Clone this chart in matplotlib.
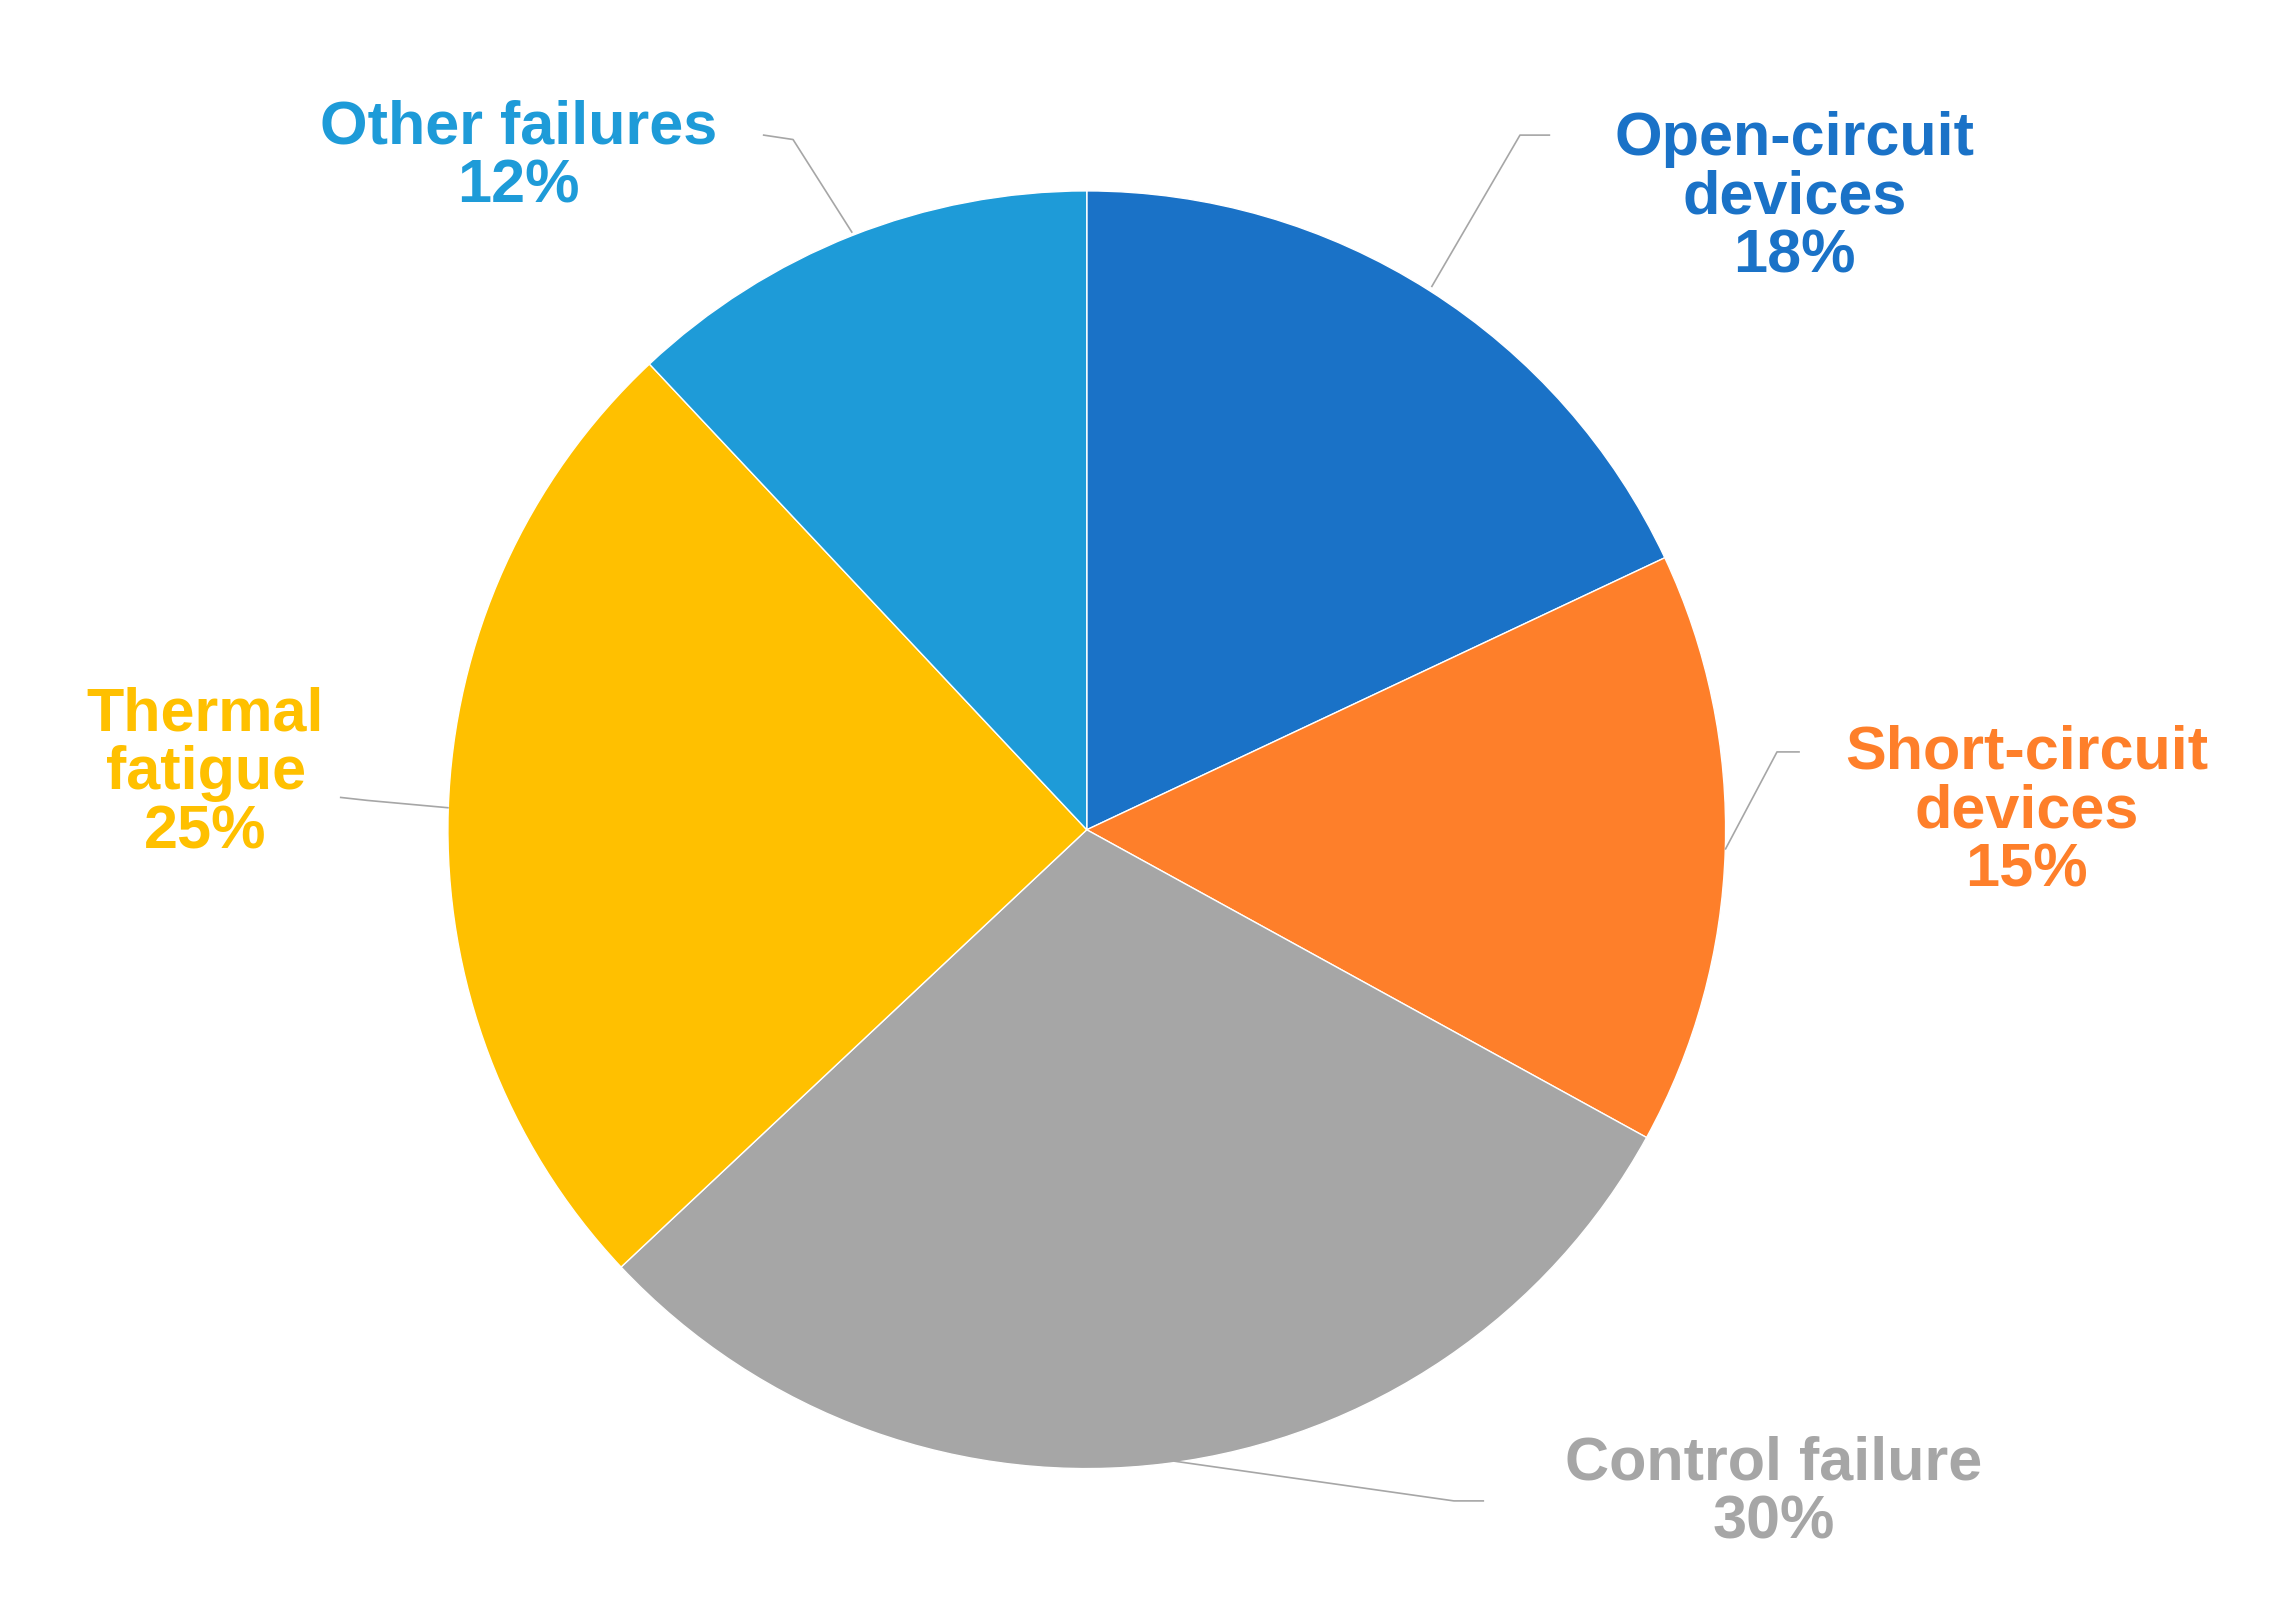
import matplotlib.pyplot as plt

labels = ["Open-circuit\ndevices", "Short-circuit\ndevices", "Control failure", "Thermal\nfatigue", "Other failures"]
values = [18, 15, 30, 25, 12]
colors = ["#1A72C7", "#FE7F2A", "#A6A6A6", "#FFC000", "#1E9BD8"]

W, H = 2291, 1597
S = W / 1560.0

def P(x, y):
    # reference-layout coords (1560 wide) -> figure pixels, y up
    return x * S, H - y * S

fig = plt.figure(figsize=(W / 100, H / 100), dpi=100)
ax = fig.add_axes([0, 0, 1, 1])
ax.set_xlim(0, W)
ax.set_ylim(0, H)
ax.set_aspect("equal")
ax.axis("off")

cx, cy = P(740, 565)
r = 435 * S
ax.pie(values, colors=colors, startangle=90, counterclock=False, center=(cx, cy),
       radius=r, wedgeprops=dict(edgecolor="white", linewidth=1.0), frame=True)
ax.set_xlim(0, W)
ax.set_ylim(0, H)
ax.axis("off")

# label text positions and leader lines (reference-layout coords)
text_pos = [(1222, 135), (1380, 553), (1208, 1017), (140, 527), (353, 107)]
leaders = [
    [(1055, 92), (1035, 92), (975, 195)],
    [(1225, 512), (1210, 512), (1175, 578)],
    [(1010, 1022), (990, 1022), (800, 995)],
    [(232, 543), (250, 545), (305, 550)],
    [(520, 92), (540, 95), (580, 158)],
]

for lab, v, c, tp, ld in zip(labels, values, colors, text_pos, leaders):
    x, y = P(*tp)
    ax.text(x, y, f"{lab}\n{v}%", color=c, fontsize=44, fontweight="bold",
            family="Liberation Sans", ha="center", va="center", linespacing=1.05)
    xs, ys = zip(*[P(*p) for p in ld])
    ax.plot(xs, ys, color="#A6A6A6", lw=1.2)

fig.savefig("out.png", dpi=100)
